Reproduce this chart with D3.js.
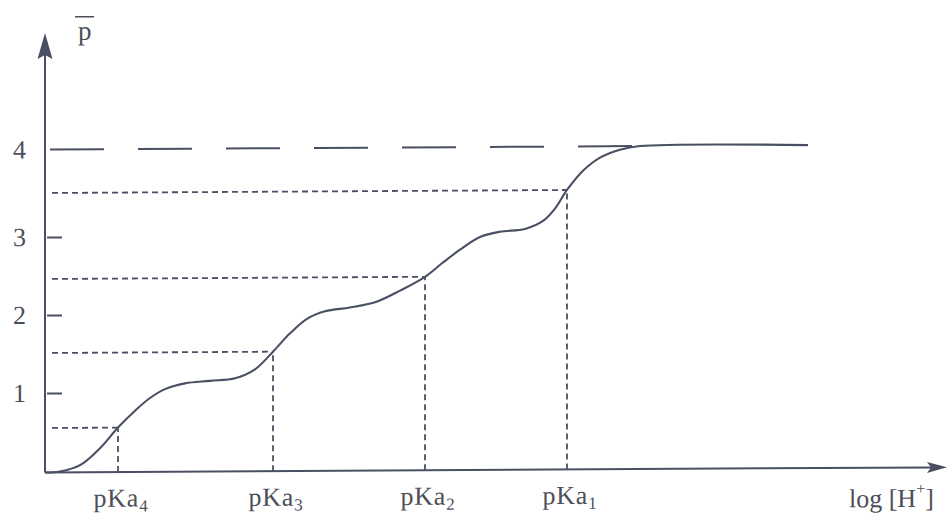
<!DOCTYPE html>
<html>
<head>
<meta charset="utf-8">
<script src="https://cdn.jsdelivr.net/npm/d3@7"></script>
<style>
  html, body { margin: 0; padding: 0; background: #ffffff; }
  svg { display: block; }
  text { font-family: "Liberation Serif", "Times New Roman", serif; fill: #4c4f58; }
</style>
</head>
<body>
<svg id="chart" width="952" height="523"></svg>
<script>
// Mean number of bound protons (p̄) versus log [H+] for a tetraprotic acid.
const yTickValues = [1, 2, 3, 4];
const pKaSubscripts = ["4", "3", "2", "1"];
const pKaPositions = [0.73, 2.28, 3.80, 5.22];
const pKaLevels = [0.5, 1.5, 2.5, 3.5];
const maxBound = 4;
const plateauStart = 5.95;

// Titration curve, sampled along its path
const curveX = [0, 0.15, 0.35, 0.55, 0.73, 0.9, 1.05, 1.2, 1.4, 1.65, 1.9, 2.1, 2.28,
                2.45, 2.62, 2.8, 3.05, 3.3, 3.55, 3.80, 3.97, 4.15, 4.35, 4.55, 4.8,
                4.98, 5.1, 5.22, 5.38, 5.55, 5.75, 5.95, 7.63];
const curveP = [0, 0.01, 0.08, 0.27, 0.5, 0.74, 0.92, 1.04, 1.11, 1.14, 1.17, 1.28, 1.5,
                1.74, 1.93, 2.03, 2.08, 2.15, 2.31, 2.5, 2.66, 2.82, 2.97, 3.03, 3.06,
                3.15, 3.29, 3.5, 3.72, 3.87, 3.96, 4.0, 4.0];

const ink = "#4a5063";
const svg = d3.select("#chart");

// the printed figure sits very slightly slanted on the page
const g = svg.append("g").attr("transform", "translate(45,0) skewY(-0.33)");

const x = d3.scaleLinear().domain([0, 9]).range([0, 900]);
const y = d3.scaleLinear()
  .domain([0, 0.5, 1, 1.5, 2, 2.5, 3, 3.5, 4])
  .range([472.5, 428, 393, 353, 315, 279, 237, 193, 149.5]);

const axisY = y(0);

// Left axis: inward ticks with numeric labels
const yAxis = d3.axisLeft(y)
  .tickValues(yTickValues)
  .tickSize(-17)
  .tickSizeOuter(0)
  .tickPadding(19)
  .tickFormat(d3.format("d"));
const yAxisG = g.append("g").call(yAxis);
yAxisG.select(".domain").remove();
yAxisG.selectAll(".tick line")
  .attr("x1", 2)
  .attr("stroke", ink)
  .attr("stroke-width", 2)
  .attr("opacity", d => d === maxBound ? 0 : 1);
yAxisG.selectAll(".tick text")
  .attr("font-size", 26)
  .attr("fill", "#4c4f58")
  .style("font-family", "'Liberation Serif', serif");

// Axis lines with arrow heads
g.append("line")
  .attr("x1", 0).attr("x2", 0)
  .attr("y1", axisY).attr("y2", 52)
  .attr("stroke", ink).attr("stroke-width", 2);
g.append("path")
  .attr("d", `M0,33 L-7.5,59 L0,55 L7.5,59 Z`)
  .attr("fill", ink);

const xEnd = x(9.02);
g.append("line")
  .attr("x1", 0).attr("x2", xEnd - 14)
  .attr("y1", axisY).attr("y2", axisY)
  .attr("stroke", ink).attr("stroke-width", 2);
g.append("path")
  .attr("d", `M${xEnd},${axisY} L${xEnd - 20},${axisY - 5.5} L${xEnd - 16},${axisY} L${xEnd - 20},${axisY + 5.5} Z`)
  .attr("fill", ink);

// Long-dash line marking the saturation level p̄ = 4
g.append("line")
  .attr("x1", x(0.05)).attr("x2", x(plateauStart))
  .attr("y1", y(maxBound)).attr("y2", y(maxBound))
  .attr("stroke", ink).attr("stroke-width", 2)
  .attr("stroke-dasharray", "54,34");

// Half-protonation guides at each pKa
const guides = g.append("g")
  .attr("stroke", ink)
  .attr("stroke-width", 1.8)
  .attr("stroke-dasharray", "6,4")
  .attr("fill", "none");
pKaPositions.forEach((k, i) => {
  guides.append("line")
    .attr("x1", x(0.07)).attr("x2", x(k))
    .attr("y1", y(pKaLevels[i])).attr("y2", y(pKaLevels[i]));
  guides.append("line")
    .attr("x1", x(k)).attr("x2", x(k))
    .attr("y1", y(0)).attr("y2", y(pKaLevels[i]));
});

// The titration curve
const pts = curveX.map((v, i) => [v, curveP[i]]);
g.append("path")
  .datum(pts)
  .attr("fill", "none")
  .attr("stroke", ink)
  .attr("stroke-width", 2.1)
  .attr("stroke-linejoin", "round")
  .attr("d", d3.line().x(d => x(d[0])).y(d => y(d[1])).curve(d3.curveCatmullRom.alpha(0.5)));

// pKa labels under the axis
pKaPositions.forEach((k, i) => {
  const t = g.append("text")
    .attr("x", x(k) + 3)
    .attr("y", 507)
    .attr("text-anchor", "middle")
    .attr("font-size", 26)
    .attr("letter-spacing", 0.8);
  t.append("tspan").text("pKa");
  t.append("tspan")
    .attr("font-size", 17)
    .attr("dy", 5)
    .text(pKaSubscripts[i]);
});

// Axis titles
const xt = g.append("text")
  .attr("x", 804)
  .attr("y", 512)
  .attr("font-size", 26);
xt.append("tspan").text("log [H");
xt.append("tspan").attr("font-size", 16).attr("dy", -13).text("+");
xt.append("tspan").attr("dy", 13).text("]");

g.append("text")
  .attr("x", 33)
  .attr("y", 40)
  .attr("font-size", 27)
  .text("p");
g.append("line")
  .attr("x1", 30).attr("x2", 49)
  .attr("y1", 17).attr("y2", 17)
  .attr("stroke", "#4c4f58").attr("stroke-width", 1.5);
</script>
</body>
</html>
